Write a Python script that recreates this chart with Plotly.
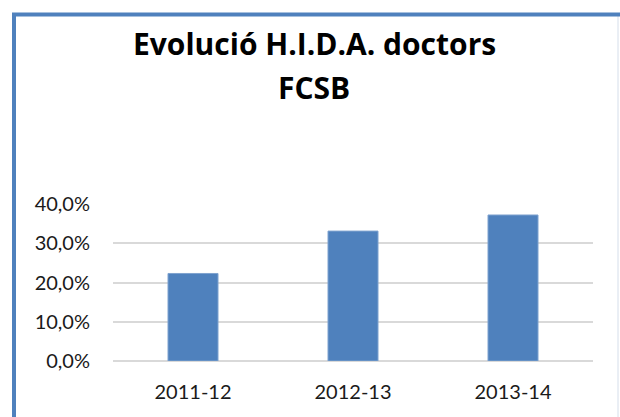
import plotly.graph_objects as go

categories = ["2011-12", "2012-13", "2013-14"]
values = [0.223, 0.331, 0.372]
y_ticks = [0, 0.1, 0.2, 0.3, 0.4]
title_lines = ["Evolució H.I.D.A. doctors", "FCSB"]

W, H = 620, 417
L, R, T, B = 113, 27, 204, 56
pw, ph = W - L - R, H - T - B

def px_x(p):
    return (p - L) / pw

def px_y(p):
    return (H - B - p) / ph

fig = go.Figure(go.Bar(
    x=categories, y=values,
    marker=dict(color="#4F81BD", line=dict(color="#7FA2CF", width=1)),
    width=0.3125,
))

title_centers = [44, 88]
annotations = [
    dict(text="<b>" + t + "</b>", xref="paper", yref="paper",
         x=px_x(314), y=px_y(cy), xanchor="center", yanchor="middle",
         showarrow=False,
         font=dict(size=30, color="#000000", family="Open Sans, sans-serif"))
    for t, cy in zip(title_lines, title_centers)
]

fig.update_layout(
    width=W, height=H,
    margin=dict(l=L, r=R, t=T, b=B, autoexpand=False),
    paper_bgcolor="white", plot_bgcolor="white",
    separators=",.",
    showlegend=False,
    font=dict(family="Lato, sans-serif", color="#1a1a1a"),
    annotations=annotations,
    shapes=[
        dict(type="line", xref="paper", yref="paper",
             x0=px_x(618), x1=px_x(618), y0=px_y(16), y1=px_y(440),
             line=dict(color="#D5DEEA", width=1), layer="below"),
        dict(type="rect", xref="paper", yref="paper",
             x0=px_x(14), x1=px_x(640), y0=px_y(14.5), y1=px_y(440),
             line=dict(color="#4F81BD", width=4), fillcolor="rgba(0,0,0,0)",
             layer="below"),
    ],
)

fig.update_xaxes(
    type="category",
    showgrid=False, showline=False, ticks="",
    tickfont=dict(size=20, color="#1a1a1a"),
    ticklabelstandoff=17,
)
fig.update_yaxes(
    range=[0, 0.4], tickvals=y_ticks, tickformat=".1%",
    showgrid=True, gridcolor="#D9D9D9", gridwidth=2,
    zeroline=True, zerolinecolor="#D9D9D9", zerolinewidth=2,
    showline=False, ticks="",
    tickfont=dict(size=20, color="#1a1a1a"),
    ticklabelstandoff=22,
)

fig.write_html("out.html", config={"displayModeBar": False},
               post_script="document.body.style.margin='0';")
